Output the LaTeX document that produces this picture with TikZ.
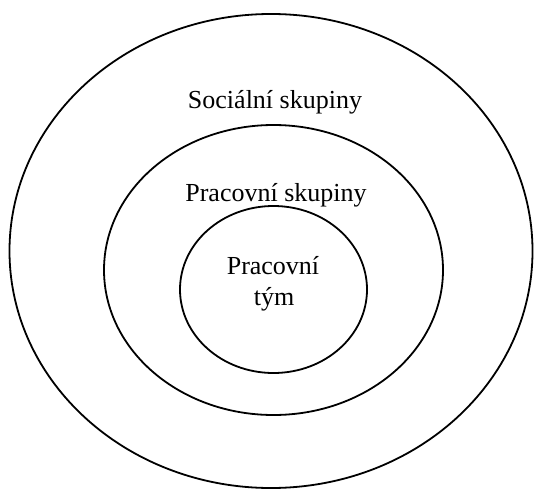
\documentclass[tikz,border=0pt]{standalone}
\usepackage{fontspec}
\setmainfont{Liberation Serif}
\usetikzlibrary{shapes.geometric}
\begin{document}
\begin{tikzpicture}[x=1pt,y=-1pt,
  ring/.style={draw=black, line width=1.8pt, ellipse, inner sep=0pt},
  lbl/.style={font=\fontsize{26}{31}\selectfont, anchor=base, inner sep=0pt, align=center}]
\useasboundingbox (0,0) rectangle (534,489);
\node[ring, minimum width=523pt, minimum height=474pt] (outer) at (271,251) {};
\node[ring, minimum width=339pt, minimum height=290pt] (middle) at (273.5,270) {};
\node[ring, minimum width=187pt, minimum height=167pt] (inner) at (273.5,289.5) {};
\node[lbl] (social) at (275,109) {Sociální skupiny};
\node[lbl] (work) at (276,201) {Pracovní skupiny};
\node[lbl] (team1) at (273,274) {Pracovní};
\node[lbl] (team2) at (274,305.5) {tým};
\end{tikzpicture}
\end{document}
